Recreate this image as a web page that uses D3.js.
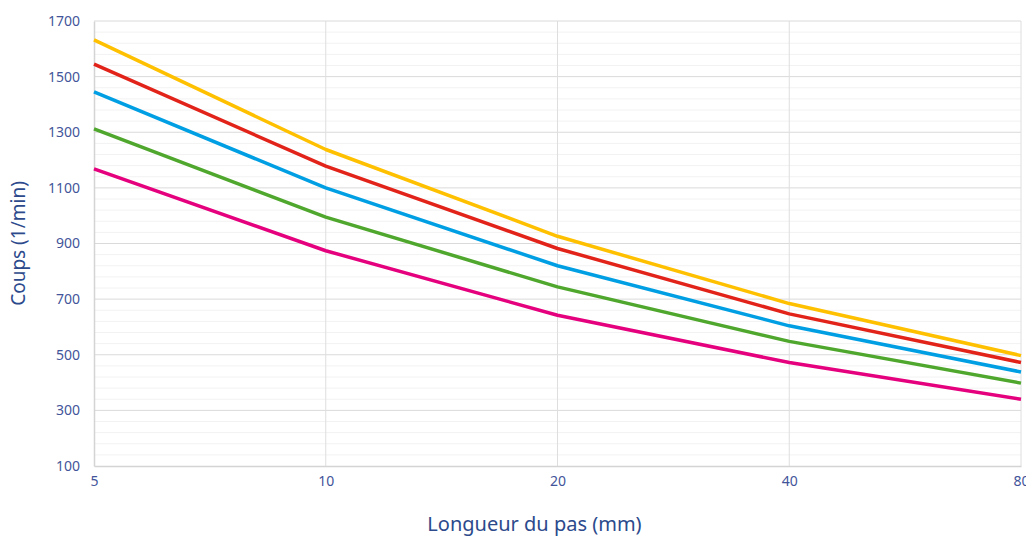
<!DOCTYPE html>
<html>
<head>
<meta charset="utf-8">
<script src="https://cdn.jsdelivr.net/npm/d3@7"></script>
<style>
  body { margin: 0; background: #fff; }
  svg { display: block; font-family: "Noto Sans", sans-serif; }
</style>
</head>
<body>
<script>
// Values.
const strokes = [5, 10, 20, 40, 80];
const yellowSeries = [1632, 1238, 926, 684, 497];
const redSeries = [1545, 1178, 882, 647, 472];
const blueSeries = [1445, 1100, 820, 604, 438];
const greenSeries = [1312, 995, 744, 548, 398];
const pinkSeries = [1168, 874, 642, 472, 340];
const yTicks = [100, 300, 500, 700, 900, 1100, 1300, 1500, 1700];

const series = [
  {color: '#ffc000', values: yellowSeries},
  {color: '#e2231a', values: redSeries},
  {color: '#009fe3', values: blueSeries},
  {color: '#4fa72d', values: greenSeries},
  {color: '#e5007d', values: pinkSeries}
];

const width = 1026, height = 536;
const plot = {left: 94, right: 1021, top: 21, bottom: 466};

const svg = d3.select('body').append('svg')
  .attr('width', width)
  .attr('height', height);

// Scales.
const xScale = d3.scaleLog().base(2)
  .domain([5, 80])
  .range([plot.left, plot.right]);
const yScale = d3.scaleLinear()
  .domain([100, 1700])
  .range([plot.bottom, plot.top]);

// Minor gridlines every 40.
const minor = d3.range(140, 1700, 40).filter(v => (v - 100) % 200 !== 0);
svg.append('g')
  .selectAll('line')
  .data(minor)
  .enter().append('line')
  .attr('x1', plot.left).attr('x2', plot.right)
  .attr('y1', d => yScale(d)).attr('y2', d => yScale(d))
  .attr('stroke', '#f2f2f2').attr('stroke-width', 1);

// Major gridlines.
svg.append('g')
  .selectAll('line')
  .data(yTicks.slice(1))
  .enter().append('line')
  .attr('x1', plot.left).attr('x2', plot.right)
  .attr('y1', d => yScale(d)).attr('y2', d => yScale(d))
  .attr('stroke', '#dadada').attr('stroke-width', 1);

// Vertical gridlines.
svg.append('g')
  .selectAll('line')
  .data(strokes.slice(1))
  .enter().append('line')
  .attr('x1', d => xScale(d)).attr('x2', d => xScale(d))
  .attr('y1', plot.top).attr('y2', plot.bottom)
  .attr('stroke', '#dedede').attr('stroke-width', 1);

// Axes.
const yAxis = d3.axisLeft(yScale)
  .tickValues(yTicks)
  .tickFormat(d3.format('d'))
  .tickSize(0)
  .tickPadding(14);
const yG = svg.append('g')
  .attr('transform', 'translate(' + plot.left + ',0)')
  .call(yAxis)
  .attr('font-family', '"Noto Sans", sans-serif')
  .attr('font-size', 14);
yG.select('.domain').attr('stroke', '#d4d4d4').attr('stroke-width', 1.5);
yG.selectAll('text').attr('fill', '#43559a');

const xAxis = d3.axisBottom(xScale)
  .tickValues(strokes)
  .tickFormat(d3.format('d'))
  .tickSize(0)
  .tickPadding(10);
const xG = svg.append('g')
  .attr('transform', 'translate(0,' + plot.bottom + ')')
  .call(xAxis)
  .attr('font-family', '"Noto Sans", sans-serif')
  .attr('font-size', 14);
xG.select('.domain').attr('stroke', '#d4d4d4').attr('stroke-width', 1.5);
xG.selectAll('text').attr('fill', '#43559a');

// Lines.
const line = d3.line()
  .x((d, i) => xScale(strokes[i]))
  .y(d => yScale(d));

svg.append('g')
  .selectAll('path')
  .data(series)
  .enter().append('path')
  .attr('d', d => line(d.values))
  .attr('fill', 'none')
  .attr('stroke', d => d.color)
  .attr('stroke-width', 3.5)
  .attr('stroke-linejoin', 'round');

// Axis titles.
svg.append('text')
  .attr('x', (plot.left + plot.right) / 2 - 23)
  .attr('y', 531)
  .attr('text-anchor', 'middle')
  .attr('fill', '#2c4a8c')
  .style('font-size', '20px')
  .text('Longueur du pas (mm)');

svg.append('text')
  .attr('transform', 'translate(25,' + ((plot.top + plot.bottom) / 2) + ') rotate(-90)')
  .attr('text-anchor', 'middle')
  .attr('fill', '#2c4a8c')
  .style('font-size', '19px')
  .text('Coups (1/min)');
</script>
</body>
</html>
